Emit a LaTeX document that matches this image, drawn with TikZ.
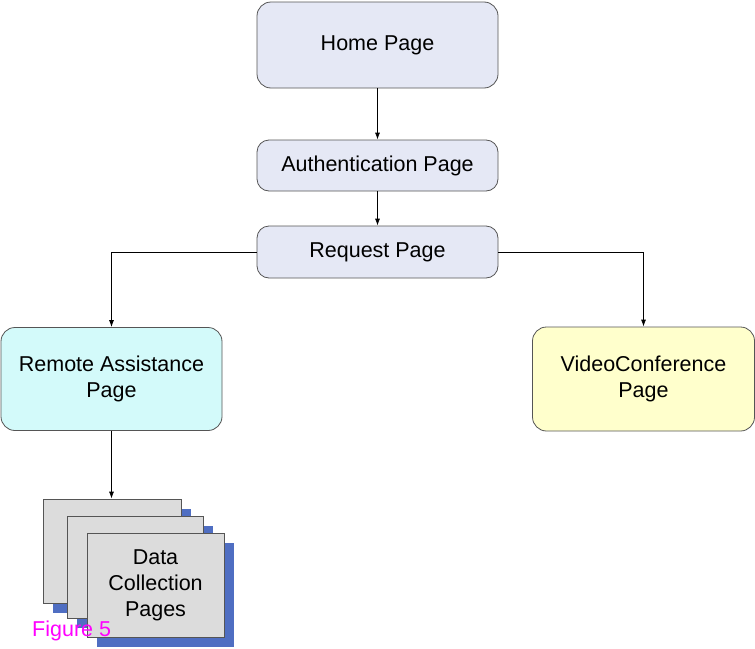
\documentclass[tikz,border=0pt]{standalone}
\usepackage{fontspec}
\setmainfont{Liberation Sans}
\usetikzlibrary{arrows.meta}
\definecolor{lav}{HTML}{E5E8F5}
\definecolor{cyanfill}{HTML}{D3FAFA}
\definecolor{yelfill}{HTML}{FFFFCC}
\definecolor{pagefill}{HTML}{DCDCDC}
\definecolor{shadowblue}{HTML}{4F6EC2}
\definecolor{edge}{HTML}{555555}
\definecolor{figmag}{HTML}{FF00FF}
\tikzset{
  box/.style={draw=edge, line width=0.8pt, rounded corners=14pt, align=center, font=\fontsize{21.5}{26}\selectfont, inner sep=0pt},
  pagebox/.style={draw=edge, line width=0.8pt, fill=pagefill, align=center, font=\fontsize{21.5}{26}\selectfont, inner sep=0pt},
  shadowbox/.style={fill=shadowblue, draw=none, inner sep=0pt},
  conn/.style={line width=0.8pt, -{Latex[length=7pt,width=5pt]}}
}
\begin{document}
\begin{tikzpicture}[x=1pt,y=-1pt]
\useasboundingbox (0,0) rectangle (755,648);
\node[box, fill=lav, minimum width=241pt, minimum height=86pt] (home) at (377.5,45) {Home Page};
\node[box, fill=lav, rounded corners=12pt, minimum width=241pt, minimum height=51pt] (auth) at (377.5,165.5) {Authentication Page};
\node[box, fill=lav, rounded corners=12pt, minimum width=241pt, minimum height=52pt] (req) at (377.5,252) {Request Page};
\node[box, fill=cyanfill, minimum width=221pt, minimum height=103pt] (remote) at (111.5,379) {Remote Assistance\\Page};
\node[box, fill=yelfill, minimum width=222pt, minimum height=104pt] (video) at (643.5,379) {VideoConference\\Page};
% stacked pages
\node[shadowbox, minimum width=138pt, minimum height=104pt] (s1) at (122,561) {};
\node[pagebox, minimum width=138pt, minimum height=104pt] (p1) at (112,551) {};
\node[shadowbox, minimum width=136pt, minimum height=102pt] (s2) at (145,577) {};
\node[pagebox, minimum width=136pt, minimum height=102pt] (p2) at (135,567) {};
\node[shadowbox, minimum width=137pt, minimum height=104pt] (s3) at (165.5,595) {};
\node[pagebox, minimum width=137pt, minimum height=104pt] (p3) at (155.5,585) {Data\\Collection\\Pages};
\node[anchor=west, text=figmag, font=\fontsize{21.5}{24}\selectfont, inner sep=0pt] (fig) at (32,631) {Figure 5};
% connectors
\draw[conn] (home) -- (auth);
\draw[conn] (auth) -- (req);
\draw[conn] (req.west) -| (remote.north);
\draw[conn] (req.east) -| (video.north);
\draw[conn] (remote.south) -- (remote.south |- p1.north);
\end{tikzpicture}
\end{document}
